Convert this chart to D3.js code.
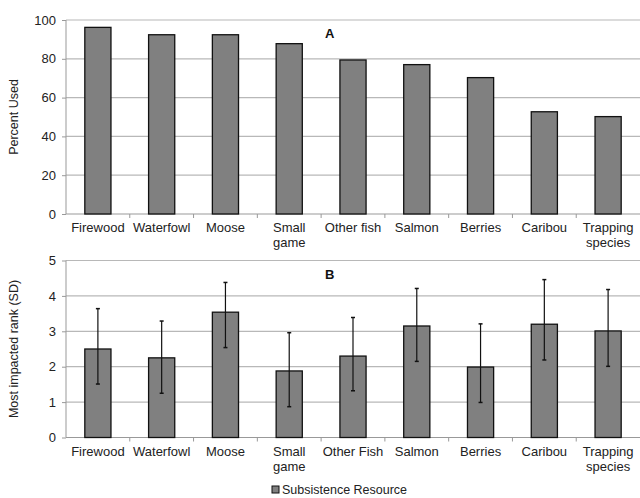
<!DOCTYPE html>
<html>
<head>
<meta charset="utf-8">
<script src="https://cdn.jsdelivr.net/npm/d3@7"></script>
<style>
  body { margin: 0; background: #fff; }
  svg { font-family: "Liberation Sans", Arial, sans-serif; }
  .tick text { font-size: 13px; fill: #222; }
</style>
</head>
<body>
<div id="chart-area"></div>
<script>
// data
var categoriesA = ['Firewood', 'Waterfowl', 'Moose', 'Small game', 'Other fish', 'Salmon', 'Berries', 'Caribou', 'Trapping species'];
var percentUsed = [96.2, 92.4, 92.4, 87.8, 79.4, 77.0, 70.3, 52.7, 50.2];
var categoriesB = ['Firewood', 'Waterfowl', 'Moose', 'Small game', 'Other Fish', 'Salmon', 'Berries', 'Caribou', 'Trapping species'];
var rankMean = [2.50, 2.25, 3.54, 1.88, 2.30, 3.15, 1.99, 3.20, 3.01];
var rankHigh = [3.64, 3.29, 4.38, 2.96, 3.39, 4.21, 3.21, 4.46, 4.18];
var rankLow = [1.51, 1.25, 2.54, 0.87, 1.32, 2.15, 0.99, 2.19, 2.01];
var ticksA = [0, 20, 40, 60, 80, 100];
var ticksB = [0, 1, 2, 3, 4, 5];

var width = 640, height = 498;
var svg = d3.select('#chart-area').append('svg')
  .attr('width', width)
  .attr('height', height);

// wrap two-word labels like the original
function wrapLabel(sel) {
  sel.each(function(){
    var t = d3.select(this);
    var txt = t.text();
    var words = txt.split(' ');
    if (txt == 'Other fish' || txt == 'Other Fish' || words.length < 2) return;
    t.text(null);
    t.append('tspan').attr('x', 0).attr('dy', '0.71em').text(words[0]);
    t.append('tspan').attr('x', 0).attr('dy', '1.15em').text(words.slice(1).join(' '));
  });
}

function drawPanel(cfg) {
  var left = 66, right = 640;
  var x = d3.scaleBand().domain(cfg.cats).range([left, right]).paddingInner(0).paddingOuter(0);
  var y = d3.scaleLinear().domain(cfg.domain).range([cfg.bottom, cfg.top]);
  var g = svg.append('g');

  // gridlines
  g.selectAll('line.grid').data(cfg.ticks.slice(1)).enter().append('line')
    .attr('class', 'grid')
    .attr('x1', left).attr('x2', right)
    .attr('y1', d => y(d)).attr('y2', d => y(d))
    .attr('stroke', '#b8b8b8').attr('stroke-width', 1.2);

  // y axis
  var yAxis = g.append('g')
    .attr('transform', 'translate(' + left + ',0)')
    .call(d3.axisLeft(y).tickValues(cfg.ticks).tickFormat(d3.format('d')).tickSize(4).tickPadding(6));
  yAxis.selectAll('path, line').attr('stroke', '#999');
  yAxis.select('.domain').attr('d', 'M0,' + cfg.top + 'V' + cfg.bottom);

  // x axis
  var xAxis = g.append('g')
    .attr('transform', 'translate(0,' + cfg.bottom + ')')
    .call(d3.axisBottom(x).tickSize(0).tickPadding(9));
  xAxis.select('.domain').attr('stroke', '#999').attr('d', 'M' + left + ',0H' + right);
  xAxis.selectAll('.tick line').remove();
  xAxis.selectAll('.tick text').call(wrapLabel);
  // category separators
  xAxis.selectAll('line.sep').data(cfg.cats.slice(1)).enter().append('line')
    .attr('class', 'sep')
    .attr('x1', d => x(d)).attr('x2', d => x(d))
    .attr('y1', 0).attr('y2', 4)
    .attr('stroke', '#999');

  // bars
  var bw = x.bandwidth() * 0.41;
  g.selectAll('rect.bar').data(cfg.values).enter().append('rect')
    .attr('class', 'bar')
    .attr('x', (d, i) => x(cfg.cats[i]) + x.bandwidth() / 2 - bw / 2)
    .attr('y', d => y(d))
    .attr('width', bw)
    .attr('height', d => cfg.bottom - y(d))
    .attr('fill', '#808080')
    .attr('stroke', '#111')
    .attr('stroke-width', 1.3);

  // error bars
  if (cfg.high) {
    cfg.values.forEach((d, i) => {
      var cx = x(cfg.cats[i]) + x.bandwidth() / 2;
      g.append('line')
        .attr('x1', cx).attr('x2', cx)
        .attr('y1', y(cfg.high[i])).attr('y2', y(cfg.low[i]))
        .attr('stroke', '#111').attr('stroke-width', 1.2);
      [cfg.high[i], cfg.low[i]].forEach(v => {
        g.append('line')
          .attr('x1', cx - 2).attr('x2', cx + 2)
          .attr('y1', y(v)).attr('y2', y(v))
          .attr('stroke', '#111').attr('stroke-width', 1.5);
      });
    });
  }

  // panel letter
  g.append('text')
    .attr('x', 325).attr('y', cfg.top + 18)
    .attr('font-size', 13).attr('font-weight', 'bold')
    .attr('fill', '#111')
    .text(cfg.letter);

  // y title
  g.append('text')
    .attr('transform', 'translate(18,' + ((cfg.top + cfg.bottom) / 2) + ') rotate(-90)')
    .attr('text-anchor', 'middle')
    .attr('font-size', 12.5)
    .attr('fill', '#222')
    .text(cfg.title);
}

drawPanel({ cats: categoriesA, values: percentUsed, domain: [0, 100], ticks: ticksA,
  top: 20, bottom: 214, letter: 'A', title: 'Percent Used' });
drawPanel({ cats: categoriesB, values: rankMean, high: rankHigh, low: rankLow, domain: [0, 5], ticks: ticksB,
  top: 260.5, bottom: 437.5, letter: 'B', title: 'Most impacted rank (SD)' });

// legend
var legend = svg.append('g').attr('transform', 'translate(272,486)');
legend.append('rect')
  .attr('x', 0).attr('y', 0).attr('width', 7).attr('height', 7)
  .attr('fill', '#808080').attr('stroke', '#111').attr('stroke-width', 1);
legend.append('text')
  .attr('x', 10).attr('y', 8)
  .attr('font-size', 12.5).attr('fill', '#222')
  .text('Subsistence Resource');
</script>
</body>
</html>
